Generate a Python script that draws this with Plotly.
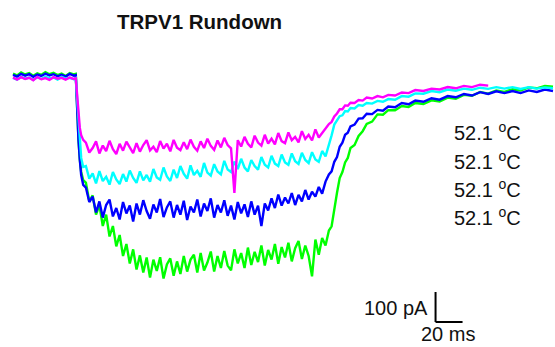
import plotly.graph_objects as go

# ---------------- data (time in ms, current in pA) ----------------
time_ms = [
    0, 3, 6, 9, 12, 15, 18, 21, 24, 27, 30, 33, 36, 39, 42, 45, 46.5,
    47.5, 48.5, 49.5, 50.5, 52,
    54, 56.5, 59, 61.5, 64, 66.5, 69, 71.5, 74, 76.5, 79, 81.5, 84, 86.5, 89, 91.5,
    94, 96.5, 99, 101.5, 104, 106.5, 109, 111.5, 114, 116.5, 119, 121.5, 124, 126.5,
    129, 131.5, 134, 136.5, 139, 141.5, 144, 146.5, 149, 151.5, 154, 156.5, 159, 161.5,
    164, 166.5, 169, 171.5, 174, 176.5, 179, 181.5, 184, 186.5, 189, 191.5, 194, 196.5,
    199, 201.5, 204, 206.5, 209, 211.5, 214, 216.5, 219, 221.5, 224, 226.5, 229, 231.5, 234,
    236, 238, 240, 242, 244, 246, 248, 250, 253, 256, 259, 262, 266, 270, 274, 278,
    283, 288, 293, 298, 304, 310, 316, 322, 328, 334, 340, 346, 352, 358, 364, 370,
    376, 382, 388, 394, 400,
]

green_pA = [
    8, 2, 12, 5, 10, 1, 9, 4, 13, 6, 11, 3, 8, 0, 10, 5, 7,
    -113, -213, -280, -320, -347,
    -355, -418, -398, -462, -430, -500, -462, -535, -500, -568,
    -530, -600, -560, -625, -578, -645, -598, -655, -605, -672,
    -612, -650, -604, -675, -628, -608, -666, -618, -660, -600,
    -652, -612, -596, -655, -590, -648, -622, -585, -652, -600,
    -640, -583, -632, -648, -578, -625, -590, -640, -572, -630,
    -586, -620, -565, -632, -580, -612, -560, -626, -570, -605,
    -556, -618, -574, -550, -610, -565, -600, -668, -545, -596,
    -540, -565, -515,
    -501, -441, -389, -340, -320, -288, -273, -240, -230, -200, -184, -160, -152, -128,
    -129, -114, -114, -100, -103, -90, -93, -81, -85, -72, -76, -63, -66, -53, -59,
    -48, -53, -44, -48, -38, -41, -33, -36,
]

blue_pA = [
    4, -2, 7, 1, 6, -3, 5, 0, 8, 2, 6, -1, 4, -2, 7, 1, 3,
    -113, -213, -280, -330, -363,
    -372, -420, -402, -455, -418, -472, -430, -412, -468, -440,
    -478, -420, -458, -432, -485, -425, -462, -414, -450, -476,
    -428, -455, -410, -470, -438, -418, -472, -430, -462, -416,
    -480, -435, -455, -412, -468, -425, -450, -408, -472, -430,
    -455, -414, -466, -432, -478, -420, -458, -428, -470, -418,
    -462, -432, -500, -425, -448, -408, -440, -395, -432, -405,
    -425, -390, -430, -396, -418, -380, -412, -386, -402, -370,
    -392, -352, -328,
    -318, -286, -270, -236, -222, -196, -189, -168, -162, -142, -141, -126, -127, -113,
    -116, -102, -104, -90, -94, -82, -86, -74, -79, -67, -71, -60, -65, -54, -60,
    -51, -57, -50, -57, -48, -53, -45, -50,
]

cyan_pA = [
    -6, -12, -3, -9, -5, -13, -4, -10, -2, -8, -5, -12, -3, -9, -6, -11, -7,
    -80, -163, -230, -273, -303,
    -300, -342, -325, -358, -317, -350, -336, -362, -320, -345,
    -360, -327, -352, -315, -340, -356, -318, -348, -330, -352,
    -310, -338, -346, -305, -335, -350, -312, -340, -300, -326,
    -342, -298, -330, -316, -336, -290, -322, -332, -294, -318,
    -328, -283, -312, -320, -285, -310, -276, -305, -318, -280,
    -300, -312, -270, -296, -305, -266, -292, -300, -262, -288,
    -296, -258, -284, -293, -256, -280, -290, -254, -278, -286,
    -250, -268, -232,
    -198, -162, -148, -134, -131, -117, -118, -107, -108, -97, -99, -90, -92, -83,
    -86, -77, -79, -67, -69, -58, -59, -50, -54, -45, -49, -42, -46, -39, -43,
    -37, -42, -37, -43, -37, -42, -38, -41,
]

magenta_pA = [
    -5, -12, -4, -10, -6, -14, -3, -11, -7, -13, -4, -9, -6, -12, -5, -10, -8,
    -63, -130, -173, -197, -213,
    -222, -255, -240, -218, -258, -232, -250, -216, -244, -260,
    -226, -249, -219, -236, -257, -224, -252, -230, -214, -248,
    -236, -254, -217, -242, -226, -251, -213, -239, -247, -221,
    -244, -212, -236, -249, -218, -240, -209, -233, -246, -215,
    -238, -206, -230, -241, -390, -214, -235, -203, -226, -238,
    -199, -222, -232, -196, -225, -209, -228, -190, -217, -224,
    -188, -214, -203, -221, -184, -210, -196, -215, -178, -205,
    -190, -176, -160,
    -153, -135, -125, -111, -111, -98, -99, -89, -90, -80, -82, -72, -75, -67,
    -71, -63, -65, -55, -57, -47, -50, -42, -45, -37, -41, -33, -37, -29, -32,
]

trace_labels = ["52.1 <sup>o</sup>C", "52.1 <sup>o</sup>C", "52.1 <sup>o</sup>C", "52.1 <sup>o</sup>C"]
title_text = "TRPV1 Rundown"
scale_ms = 20
scale_pA = 100

# ---------------- figure ----------------
FONT = "Liberation Sans, Arial, Helvetica, sans-serif"
fig = go.Figure()
series = [
    (green_pA, "#00FF00"),
    (blue_pA, "#0000FF"),
    (cyan_pA, "#00FFFF"),
    (magenta_pA, "#FF00FF"),
]
for vals, col in series:
    fig.add_trace(go.Scatter(
        x=time_ms[:len(vals)], y=vals, mode="lines",
        line=dict(color=col, width=2.4), hoverinfo="skip", showlegend=False,
    ))

# scale bar
sb_x0, sb_y0 = 313, -820
fig.add_shape(type="line", x0=sb_x0, x1=sb_x0, y0=sb_y0, y1=sb_y0 + scale_pA,
              xref="x", yref="y", line=dict(color="black", width=2))
fig.add_shape(type="line", x0=sb_x0, x1=sb_x0 + scale_ms, y0=sb_y0, y1=sb_y0,
              xref="x", yref="y", line=dict(color="black", width=2))

W, H = 555, 347
ann = []
label_y = [131.7, 160, 188.3, 216.7]
for txt, py in zip(trace_labels, label_y):
    ann.append(dict(text=txt, x=452 / W, y=1 - py / H, xref="paper", yref="paper",
                    xanchor="left", yanchor="middle", showarrow=False,
                    font=dict(family=FONT, size=20, color="#111111")))
ann.append(dict(text=f"{scale_pA} pA", x=430 / W, y=1 - 307.5 / H, xref="paper", yref="paper",
                xanchor="right", yanchor="middle", showarrow=False,
                font=dict(family=FONT, size=20, color="#111111")))
ann.append(dict(text=f"{scale_ms} ms", x=447.5 / W, y=1 - 333.5 / H, xref="paper", yref="paper",
                xanchor="center", yanchor="middle", showarrow=False,
                font=dict(family=FONT, size=20, color="#111111")))

fig.update_layout(
    width=W, height=H,
    margin=dict(l=0, r=0, t=0, b=0),
    paper_bgcolor="white", plot_bgcolor="white",
    title=dict(text=f"<b>{title_text}</b>", x=117 / W, xanchor="left",
               y=1 - 22 / H, yanchor="middle",
               font=dict(family=FONT, size=20.5, color="#111111")),
    xaxis=dict(range=[-13 / 1.35, (W - 13) / 1.35], visible=False, fixedrange=True),
    yaxis=dict(range=[(76 - H) / 0.3, 76 / 0.3], visible=False, fixedrange=True),
    annotations=ann,
    showlegend=False,
)

fig.write_html("out.html", config={"displayModeBar": False})

# remove the browser's default page margin so the figure sits at (0, 0)
with open("out.html", "r", encoding="utf-8") as fh:
    page = fh.read()
page = page.replace("<head>", "<head><style>html,body{margin:0;padding:0;overflow:hidden;}</style>", 1)
with open("out.html", "w", encoding="utf-8") as fh:
    fh.write(page)
